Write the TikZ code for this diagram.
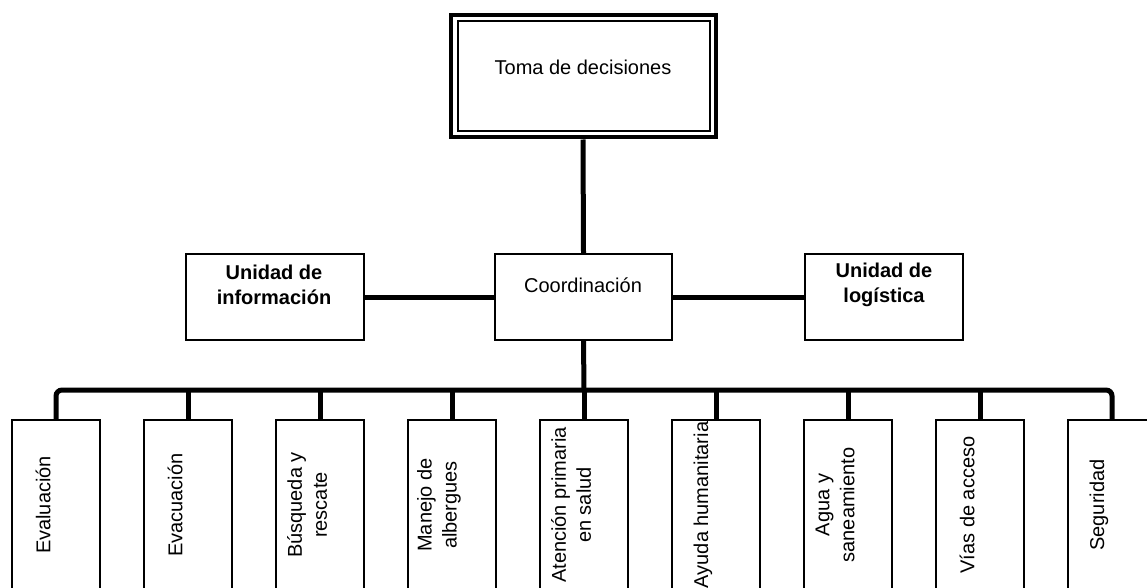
\documentclass[tikz,border=0pt]{standalone}
\usepackage{fontspec}
\setmainfont{Liberation Sans}
\begin{document}
\begin{tikzpicture}[x=1pt,y=-1pt,
  box/.style={draw, line width=1.8pt, inner sep=0pt},
  conn/.style={line width=5pt},
  lbl/.style={font=\fontsize{20}{25}\selectfont, align=center, inner sep=0pt},
  blbl/.style={font=\fontsize{20}{25}\selectfont\bfseries, align=center, inner sep=0pt},
  vlbl/.style={lbl, rotate=90}]
\useasboundingbox (0,0) rectangle (1147,588);
\clip (0,0) rectangle (1147,588);
% top box (double border)
\node[draw, line width=4pt, minimum width=265pt, minimum height=122pt, inner sep=0pt] (top) at (583,76.5) {};
\draw[line width=2pt] (457.5,21.5) rectangle (709.5,131.5);
\node[lbl] (ttop) at (583,67) {Toma de decisiones};
% middle row
\node[box, minimum width=177pt, minimum height=86pt] (coord) at (583.5,297) {};
\node[lbl] (tcoord) at (583,285) {Coordinación};
\node[box, minimum width=178pt, minimum height=86pt] (info) at (275,297) {};
\node[blbl] (tinfo) at (274,285) {Unidad de\\información};
\node[box, minimum width=158pt, minimum height=86pt] (log) at (884,297) {};
\node[blbl] (tlog) at (884,285) {Unidad de\\logística};
% connectors
\draw[conn] (top.south) -- (coord.north);
\draw[conn] (info.east) -- (coord.west);
\draw[conn] (coord.east) -- (log.west);
\coordinate (bus) at (584,390);
\draw[conn] (coord.south) -- (bus);
% bottom boxes
\foreach \i/\t in {1/Evaluación,2/Evacuación,3/Búsqueda y\\rescate,4/Manejo de\\albergues,5/Atención primaria\\en salud,6/Ayuda humanitaria,7/Agua y\\saneamiento,8/Vías de acceso,9/Seguridad}{
  \pgfmathsetmacro{\cx}{56+132*(\i-1)}
  \node[box, minimum width=88pt, minimum height=200pt] (b\i) at (\cx,520) {};
  \node[vlbl] (t\i) at (\cx-13,505) {\t};
}
\draw[conn, rounded corners=6pt] (b1.north) -- (b1.north |- bus) -- (b9.north |- bus) -- (b9.north);
\foreach \i in {2,...,8}{
  \draw[conn] (b\i.north |- bus) -- (b\i.north);
}
\end{tikzpicture}
\end{document}
